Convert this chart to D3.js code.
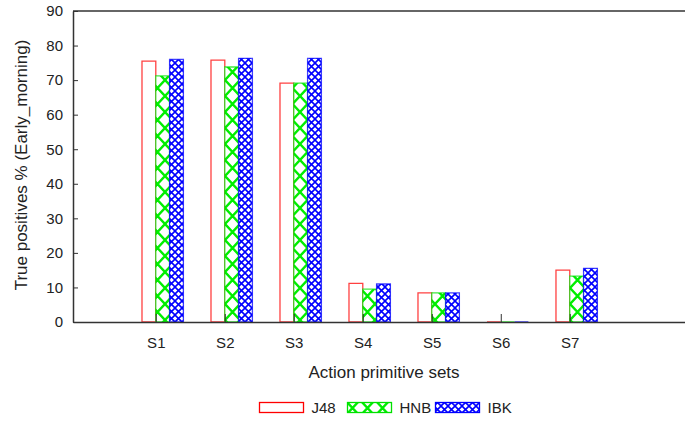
<!DOCTYPE html>
<html>
<head>
<meta charset="utf-8">
<script src="https://cdn.jsdelivr.net/npm/d3@7"></script>
<style>
  body { margin: 0; background: #fff; }
  svg text { font-family: "Liberation Sans", Arial, sans-serif; fill: #222; }
</style>
</head>
<body>
<svg width="685" height="421"></svg>
<script>
// data
var categories = ["S1", "S2", "S3", "S4", "S5", "S6", "S7"];
var seriesNames = ["J48", "HNB", "IBK"];
var j48 = [75.5, 75.8, 69.1, 11.2, 8.4, 0, 15.0];
var hnb = [71.2, 73.8, 69.1, 9.5, 8.4, 0, 13.3];
var ibk = [76.0, 76.3, 76.3, 11.0, 8.4, 0, 15.5];
var yTicks = [0, 10, 20, 30, 40, 50, 60, 70, 80, 90];

var series = [j48, hnb, ibk];
var colors = ["#ff0000", "#00e000", "#0000ff"];
var fills = ["#fff", "url(#hatchBig)", "url(#hatchSmall)"];

var svg = d3.select("svg"),
  width = +svg.attr("width"),
  height = +svg.attr("height");

var mLeft = 73, mRight = 685, mTop = 11, mBottom = 322;

var x = d3.scaleLinear().domain([-1.2, 7.67]).range([mLeft, mRight]);
var y = d3.scaleLinear().domain([0, 90]).range([mBottom, mTop]);
var bw = 0.2; // bar width in category units

// patterns
var defs = svg.append("defs");
var p1 = defs.append("pattern").attr("id", "hatchBig")
  .attr("patternUnits", "userSpaceOnUse").attr("width", 15).attr("height", 16);
p1.append("rect").attr("width", 15).attr("height", 16).attr("fill", "#fff");
p1.append("path").attr("d", "M0,0L15,16M15,0L0,16M-1,15L1,17M14,-1L16,1")
  .attr("stroke", "#00ee00").attr("stroke-width", 2.4);

var p2 = defs.append("pattern").attr("id", "hatchSmall")
  .attr("patternUnits", "userSpaceOnUse").attr("width", 7).attr("height", 7);
p2.append("rect").attr("width", 7).attr("height", 7).attr("fill", "#fff");
p2.append("path").attr("d", "M0,0L7,7M7,0L0,7")
  .attr("stroke", "#0000ff").attr("stroke-width", 1.6);

// bars
series.forEach(function (vals, k) {
  svg.append("g")
    .selectAll("path")
    .data(vals)
    .enter()
    .append("path")
      .attr("d", function (d, i) {
        var x0 = x(i + (k - 1) * bw), x1 = x(i + k * bw);
        return "M" + x0 + "," + y(0) + "V" + y(d) + "H" + x1 + "V" + y(0) + "Z";
      })
      .attr("fill", fills[k])
      .attr("stroke", colors[k])
      .attr("stroke-opacity", 0.75)
      .attr("stroke-width", 1.3);
});

// y axis
var yAxis = svg.append("g")
  .attr("transform", "translate(" + mLeft + ",0)")
  .call(d3.axisLeft(y).tickValues(yTicks).tickSize(-5).tickPadding(10).tickSizeOuter(0));
yAxis.select(".domain").attr("stroke", "#333").attr("stroke-width", 1.5);
yAxis.selectAll(".tick line").attr("stroke", "#333");
yAxis.selectAll("text").style("font-size", "15px").attr("fill", "#222");

// x axis
var xAxis = svg.append("g")
  .attr("transform", "translate(0," + mBottom + ")")
  .call(d3.axisBottom(x).tickValues(d3.range(categories.length))
    .tickFormat(function (i) { return categories[i]; })
    .tickSize(-8).tickPadding(15).tickSizeOuter(0));
xAxis.select(".domain").attr("stroke", "#333").attr("stroke-width", 1.5);
xAxis.selectAll(".tick line").attr("stroke", "#333");
xAxis.selectAll("text").style("font-size", "15px").attr("fill", "#222");

// top border
svg.append("line")
  .attr("x1", mLeft).attr("x2", mRight).attr("y1", mTop).attr("y2", mTop)
  .attr("stroke", "#333").attr("stroke-width", 1.5);

// axis titles
svg.append("text")
  .attr("x", 384).attr("y", 378)
  .attr("text-anchor", "middle")
  .style("font-size", "17px")
  .text("Action primitive sets");

svg.append("text")
  .attr("transform", "translate(27,165) rotate(-90)")
  .attr("text-anchor", "middle")
  .style("font-size", "17px")
  .text("True positives % (Early_morning)");

// legend
var legX = [259.5, 347.5, 435.5];
seriesNames.forEach(function (name, k) {
  svg.append("rect")
    .attr("x", legX[k]).attr("y", 402.5)
    .attr("width", 44).attr("height", 10)
    .attr("fill", fills[k])
    .attr("stroke", colors[k]).attr("stroke-width", 1.3);
  svg.append("text")
    .attr("x", legX[k] + 52).attr("y", 413)
    .style("font-size", "15px")
    .text(name);
});
</script>
</body>
</html>
